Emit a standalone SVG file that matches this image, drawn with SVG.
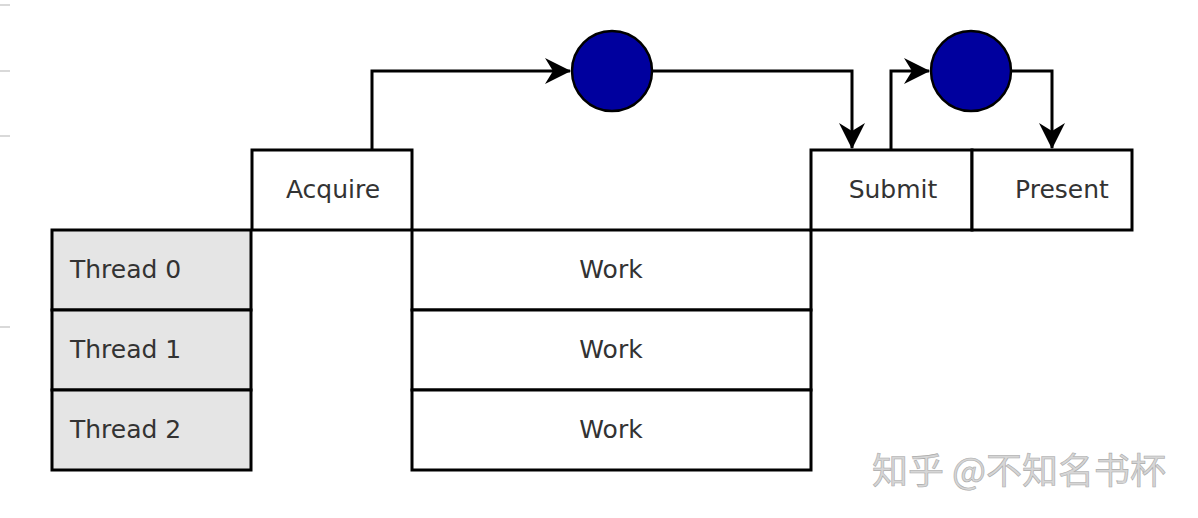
<svg xmlns="http://www.w3.org/2000/svg" width="1198" height="518" viewBox="0 0 1198 518">
<style>
.box{stroke:#000;stroke-width:3;fill:#fff}
.thr{stroke:#000;stroke-width:3;fill:#e5e5e5}
.lbl{font-family:"DejaVu Sans",sans-serif;font-size:25px;fill:#333}
.c{text-anchor:middle}
.conn{stroke:#000;stroke-width:3;fill:none}
.ev{fill:#00009e;stroke:#000;stroke-width:2.5}
.tick{stroke:#ccc;stroke-width:1.5}
.wm{font-family:"Noto Sans CJK SC","DejaVu Sans",sans-serif;font-size:36px;fill:#d6d6d6;stroke:#aaa;stroke-width:0.6}
</style>
<defs>
<marker id="arr" viewBox="0 0 26 28" refX="25" refY="14" markerWidth="26" markerHeight="28" markerUnits="userSpaceOnUse" orient="auto">
<path d="M0,1 L26,14 L0,27 L8,14 Z" fill="#000"/>
</marker>
</defs>
<g id="ticks">
<line class="tick" x1="0" y1="5" x2="10" y2="5"/>
<line class="tick" x1="0" y1="71" x2="10" y2="71"/>
<line class="tick" x1="0" y1="136" x2="10" y2="136"/>
<line class="tick" x1="0" y1="327" x2="10" y2="327"/>
</g>
<g id="connectors">
<path class="conn" d="M372,150 V71 H570" marker-end="url(#arr)"/>
<path class="conn" d="M652,71 H852 V148" marker-end="url(#arr)"/>
<path class="conn" d="M891,150 V71 H929" marker-end="url(#arr)"/>
<path class="conn" d="M1012,71 H1052 V148" marker-end="url(#arr)"/>
</g>
<g id="thread0"><rect class="thr" x="52" y="230" width="199" height="80"/><text class="lbl" x="70" y="278">Thread 0</text></g>
<g id="thread1"><rect class="thr" x="52" y="310" width="199" height="80"/><text class="lbl" x="70" y="358">Thread 1</text></g>
<g id="thread2"><rect class="thr" x="52" y="390" width="199" height="80"/><text class="lbl" x="70" y="438">Thread 2</text></g>
<g id="acquire"><rect class="box" x="252" y="150" width="160" height="80"/><text class="lbl c" x="333" y="198">Acquire</text></g>
<g id="work0"><rect class="box" x="412" y="230" width="399" height="80"/><text class="lbl c" x="611" y="278">Work</text></g>
<g id="work1"><rect class="box" x="412" y="310" width="399" height="80"/><text class="lbl c" x="611" y="358">Work</text></g>
<g id="work2"><rect class="box" x="412" y="390" width="399" height="80"/><text class="lbl c" x="611" y="438">Work</text></g>
<g id="submit"><rect class="box" x="811" y="150" width="161" height="80"/><text class="lbl c" x="893" y="198">Submit</text></g>
<g id="present"><rect class="box" x="972" y="150" width="160" height="80"/><text class="lbl c" x="1062" y="198">Present</text></g>
<g id="event1"><circle class="ev" cx="612" cy="71" r="40"/></g>
<g id="event2"><circle class="ev" cx="971" cy="71" r="40"/></g>
<g id="watermark"><text class="wm" x="872" y="484">知乎 @不知名书杯</text></g>
</svg>
